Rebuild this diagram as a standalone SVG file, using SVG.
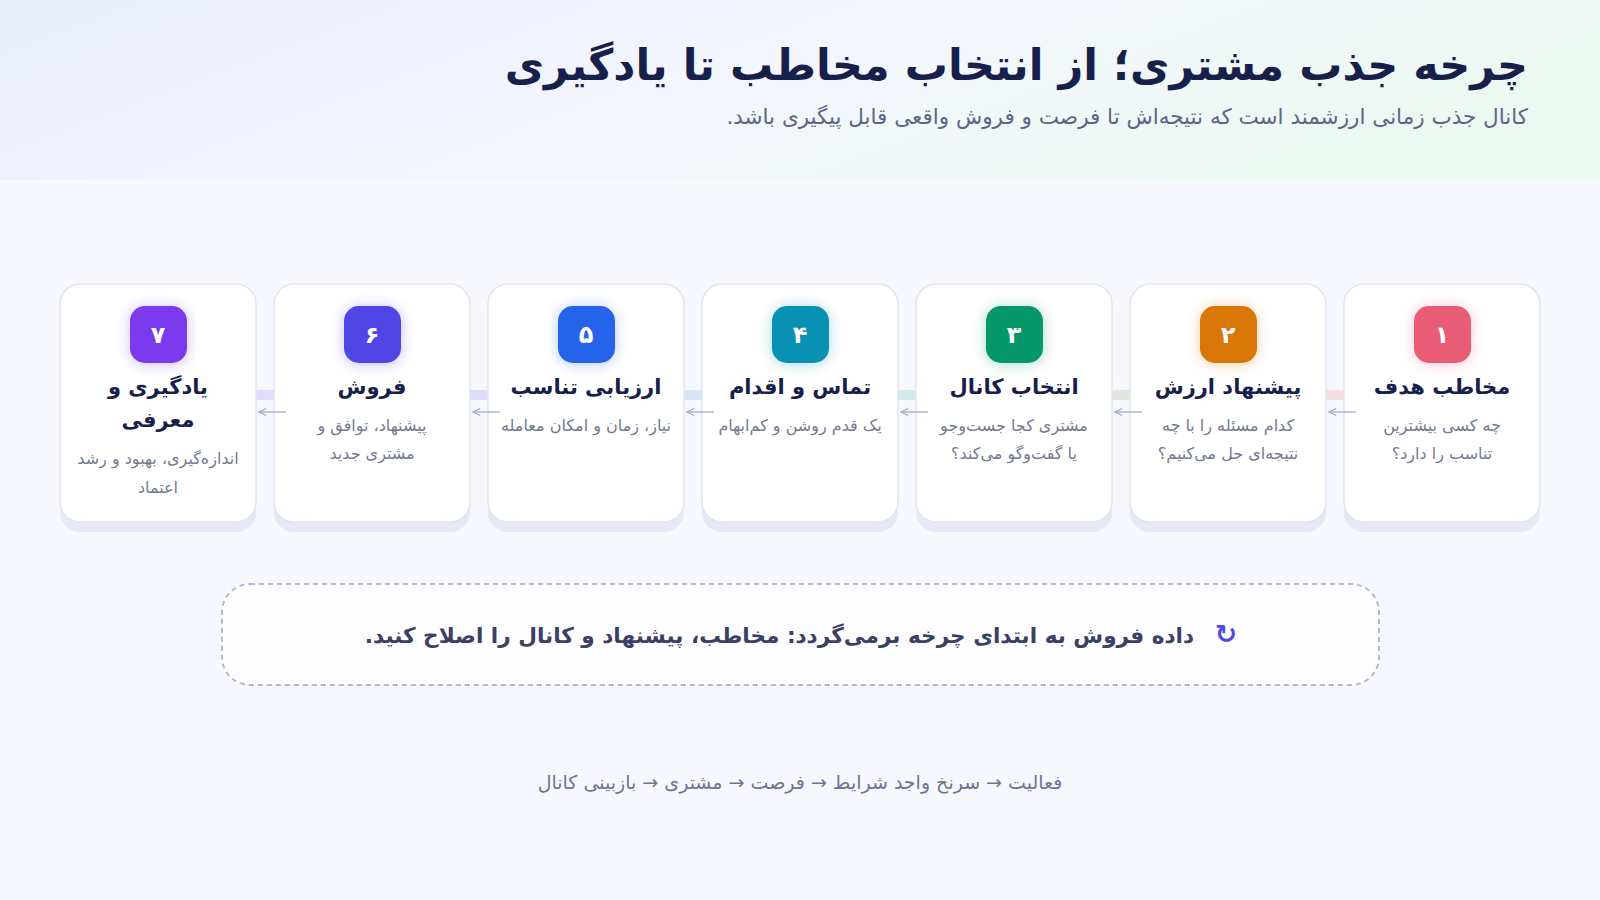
<svg xmlns="http://www.w3.org/2000/svg" width="1600" height="900" viewBox="0 0 1600 900">
<defs>
<linearGradient id="hdr" x1="0" y1="0" x2="1" y2="0.3">
<stop offset="0" stop-color="#eaeefc"/>
<stop offset="0.55" stop-color="#f4f6fd"/>
<stop offset="1" stop-color="#edf8f2"/>
</linearGradient>
<filter id="glow" x="-60%" y="-60%" width="220%" height="220%">
<feGaussianBlur in="SourceGraphic" stdDeviation="7"/>
</filter>
<marker id="ah" viewBox="0 0 10 10" refX="9" refY="5" markerWidth="9" markerHeight="9" orient="auto" markerUnits="userSpaceOnUse">
<path d="M1,1 L9,5 L1,9" fill="none" stroke="#a3aacb" stroke-width="1.3"/>
</marker>
<style>
text{font-family:"DejaVu Sans","Noto Sans Arabic",sans-serif;}
.title{font-size:43px;font-weight:700;fill:#17204a;}
.sub{font-size:21.5px;fill:#5d6584;}
.card{fill:#ffffff;stroke:#e2e5f2;stroke-width:1.5;}
.shadow{fill:#e7e8f5;}
.num{font-size:24px;font-weight:700;fill:#ffffff;}
.ct{font-size:21px;font-weight:700;fill:#17204a;}
.cd{font-size:16px;fill:#737a92;}
.arrow{stroke:#a3aacb;stroke-width:1.3;fill:none;}
.fb{fill:#fdfdff;stroke:#b3b8d5;stroke-width:2;stroke-dasharray:5 4;}
.fbt{font-size:21.6px;font-weight:700;fill:#3a4163;}
.foot{font-size:19px;fill:#6d7494;}
</style>
</defs>
<rect width="1600" height="900" fill="#f7f8fd"/>
<rect width="1600" height="180" fill="url(#hdr)"/>
<g id="header">
<text class="title" x="1528" y="80" direction="rtl" text-anchor="start">چرخه جذب مشتری؛ از انتخاب مخاطب تا یادگیری</text>
<text class="sub" x="1528" y="124" direction="rtl" text-anchor="start">کانال جذب زمانی ارزشمند است که نتیجه‌اش تا فرصت و فروش واقعی قابل پیگیری باشد.</text>
</g>
<g id="bands">
<rect x="1326" y="390" width="18" height="10" fill="#f6dde1"/>
<rect x="1112" y="390" width="18" height="10" fill="#e0e6df"/>
<rect x="898" y="390" width="18" height="10" fill="#d2ebe8"/>
<rect x="684" y="390" width="18" height="10" fill="#d6e5f5"/>
<rect x="470" y="390" width="18" height="10" fill="#dcdcf8"/>
<rect x="256" y="390" width="18" height="10" fill="#e1dcf8"/>
</g>
<g id="n1">
<rect class="shadow" x="1344" y="292" width="196" height="240" rx="20"/>
<rect class="card" x="1344" y="284" width="196" height="238" rx="20"/>
<rect x="1414" y="307" width="57" height="57" rx="15" fill="#e85d75" opacity="0.35" filter="url(#glow)"/>
<rect x="1414" y="306" width="57" height="57" rx="15" fill="#e85d75"/>
<text class="num" x="1442" y="343" text-anchor="middle">۱</text>
<text class="ct" x="1442" y="394" text-anchor="middle" direction="rtl">مخاطب هدف</text>
<text class="cd" x="1442" y="431" text-anchor="middle" direction="rtl">چه کسی بیشترین</text>
<text class="cd" x="1442" y="459" text-anchor="middle" direction="rtl">تناسب را دارد؟</text>
</g>
<g id="n2">
<rect class="shadow" x="1130" y="292" width="196" height="240" rx="20"/>
<rect class="card" x="1130" y="284" width="196" height="238" rx="20"/>
<rect x="1200" y="307" width="57" height="57" rx="15" fill="#d97706" opacity="0.35" filter="url(#glow)"/>
<rect x="1200" y="306" width="57" height="57" rx="15" fill="#d97706"/>
<text class="num" x="1228" y="343" text-anchor="middle">۲</text>
<text class="ct" x="1228" y="394" text-anchor="middle" direction="rtl">پیشنهاد ارزش</text>
<text class="cd" x="1228" y="431" text-anchor="middle" direction="rtl">کدام مسئله را با چه</text>
<text class="cd" x="1228" y="459" text-anchor="middle" direction="rtl">نتیجه‌ای حل می‌کنیم؟</text>
</g>
<g id="n3">
<rect class="shadow" x="916" y="292" width="196" height="240" rx="20"/>
<rect class="card" x="916" y="284" width="196" height="238" rx="20"/>
<rect x="986" y="307" width="57" height="57" rx="15" fill="#059669" opacity="0.35" filter="url(#glow)"/>
<rect x="986" y="306" width="57" height="57" rx="15" fill="#059669"/>
<text class="num" x="1014" y="343" text-anchor="middle">۳</text>
<text class="ct" x="1014" y="394" text-anchor="middle" direction="rtl">انتخاب کانال</text>
<text class="cd" x="1014" y="431" text-anchor="middle" direction="rtl">مشتری کجا جست‌وجو</text>
<text class="cd" x="1014" y="459" text-anchor="middle" direction="rtl">یا گفت‌وگو می‌کند؟</text>
</g>
<g id="n4">
<rect class="shadow" x="702" y="292" width="196" height="240" rx="20"/>
<rect class="card" x="702" y="284" width="196" height="238" rx="20"/>
<rect x="772" y="307" width="57" height="57" rx="15" fill="#0891b2" opacity="0.35" filter="url(#glow)"/>
<rect x="772" y="306" width="57" height="57" rx="15" fill="#0891b2"/>
<text class="num" x="800" y="343" text-anchor="middle">۴</text>
<text class="ct" x="800" y="394" text-anchor="middle" direction="rtl">تماس و اقدام</text>
<text class="cd" x="800" y="431" text-anchor="middle" direction="rtl">یک قدم روشن و کم‌ابهام</text>
</g>
<g id="n5">
<rect class="shadow" x="488" y="292" width="196" height="240" rx="20"/>
<rect class="card" x="488" y="284" width="196" height="238" rx="20"/>
<rect x="558" y="307" width="57" height="57" rx="15" fill="#2563eb" opacity="0.35" filter="url(#glow)"/>
<rect x="558" y="306" width="57" height="57" rx="15" fill="#2563eb"/>
<text class="num" x="586" y="343" text-anchor="middle">۵</text>
<text class="ct" x="586" y="394" text-anchor="middle" direction="rtl">ارزیابی تناسب</text>
<text class="cd" x="586" y="431" text-anchor="middle" direction="rtl">نیاز، زمان و امکان معامله</text>
</g>
<g id="n6">
<rect class="shadow" x="274" y="292" width="196" height="240" rx="20"/>
<rect class="card" x="274" y="284" width="196" height="238" rx="20"/>
<rect x="344" y="307" width="57" height="57" rx="15" fill="#4f46e5" opacity="0.35" filter="url(#glow)"/>
<rect x="344" y="306" width="57" height="57" rx="15" fill="#4f46e5"/>
<text class="num" x="372" y="343" text-anchor="middle">۶</text>
<text class="ct" x="372" y="394" text-anchor="middle" direction="rtl">فروش</text>
<text class="cd" x="372" y="431" text-anchor="middle" direction="rtl">پیشنهاد، توافق و</text>
<text class="cd" x="372" y="459" text-anchor="middle" direction="rtl">مشتری جدید</text>
</g>
<g id="n7">
<rect class="shadow" x="60" y="292" width="196" height="240" rx="20"/>
<rect class="card" x="60" y="284" width="196" height="238" rx="20"/>
<rect x="130" y="307" width="57" height="57" rx="15" fill="#7c3aed" opacity="0.35" filter="url(#glow)"/>
<rect x="130" y="306" width="57" height="57" rx="15" fill="#7c3aed"/>
<text class="num" x="158" y="343" text-anchor="middle">۷</text>
<text class="ct" x="158" y="394" text-anchor="middle" direction="rtl">یادگیری و</text>
<text class="ct" x="158" y="427" text-anchor="middle" direction="rtl">معرفی</text>
<text class="cd" x="158" y="464" text-anchor="middle" direction="rtl">اندازه‌گیری، بهبود و رشد</text>
<text class="cd" x="158" y="493" text-anchor="middle" direction="rtl">اعتماد</text>
</g>
<g id="connectors">
<line class="arrow" x1="1356" y1="412" x2="1329" y2="412" marker-end="url(#ah)"/>
<line class="arrow" x1="1142" y1="412" x2="1115" y2="412" marker-end="url(#ah)"/>
<line class="arrow" x1="928" y1="412" x2="901" y2="412" marker-end="url(#ah)"/>
<line class="arrow" x1="714" y1="412" x2="687" y2="412" marker-end="url(#ah)"/>
<line class="arrow" x1="500" y1="412" x2="473" y2="412" marker-end="url(#ah)"/>
<line class="arrow" x1="286" y1="412" x2="259" y2="412" marker-end="url(#ah)"/>
</g>
<g id="feedback">
<rect class="fb" x="222" y="584" width="1157" height="101" rx="28"/>
<text x="1226" y="643" text-anchor="middle" font-size="26" font-weight="700" fill="#4f46e5">↻</text>
<text class="fbt" x="1194" y="643" direction="rtl" text-anchor="start">داده فروش به ابتدای چرخه برمی‌گردد: مخاطب، پیشنهاد و کانال را اصلاح کنید.</text>
</g>
<g id="footer">
<text class="foot" x="800" y="789" text-anchor="middle" direction="rtl">فعالیت → سرنخ واجد شرایط → فرصت → مشتری → بازبینی کانال</text>
</g>
</svg>
